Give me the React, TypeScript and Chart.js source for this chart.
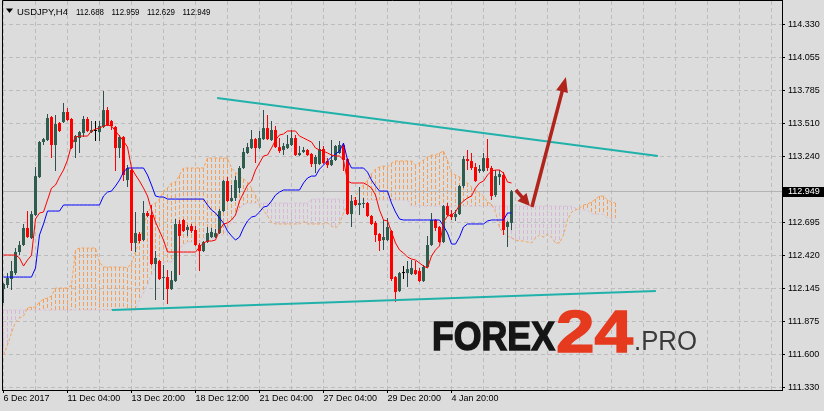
import React, { useEffect, useRef } from 'react';
import { Chart, registerables } from 'chart.js';
Chart.register(...registerables);

// ---------- data (USDJPY H4, bar index 0 = 6 Dec 2017) ----------
const opens = [
  112.141, 112.174, 112.224, 112.273, 112.447, 112.505, 112.646, 112.563, 112.753, 113.067,
  113.357, 113.373, 113.563, 113.332, 113.514, 113.522, 113.605, 113.547, 113.357, 113.390,
  113.431, 113.547, 113.439, 113.448, 113.439, 113.481, 113.621, 113.530, 113.481, 113.307,
  113.398, 113.042, 113.125, 112.522, 112.596, 112.546, 112.770, 112.753, 112.348, 112.373,
  112.232, 112.240, 112.141, 112.207, 112.679, 112.712, 112.629, 112.662, 112.629, 112.505,
  112.455, 112.530, 112.571, 112.571, 112.604, 112.786, 113.034, 112.869, 112.894, 112.976,
  113.142, 113.266, 113.307, 113.381, 113.307, 113.381, 113.472, 113.373, 113.456, 113.315,
  113.291, 113.307, 113.332, 113.390, 113.249, 113.274, 113.291, 113.258, 113.175, 113.175,
  113.299, 113.200, 113.166, 113.208, 113.266, 113.332, 113.216, 112.761, 112.877, 112.836,
  112.844, 112.852, 112.745, 112.687, 112.596, 112.546, 112.546, 112.621, 112.240, 112.124,
  112.273, 112.273, 112.265, 112.298, 112.290, 112.207, 112.323, 112.505, 112.712, 112.654,
  112.530, 112.827, 112.761, 112.736, 112.761, 112.993, 113.216, 113.200, 113.150, 113.117,
  113.117, 113.224, 113.142, 112.918, 113.067, 113.084, 112.654, 112.688,
];
const highs = [
  112.190, 112.273, 112.373, 112.480, 112.538, 112.679, 112.786, 112.786, 113.150, 113.365,
  113.390, 113.588, 113.572, 113.580, 113.522, 113.679, 113.638, 113.555, 113.415, 113.448,
  113.572, 113.563, 113.530, 113.530, 113.530, 113.779, 113.646, 113.539, 113.489, 113.415,
  113.406, 113.166, 113.150, 112.778, 112.613, 112.869, 112.786, 112.836, 112.455, 112.381,
  112.340, 112.298, 112.290, 112.720, 112.712, 112.720, 112.671, 112.679, 112.662, 112.522,
  112.538, 112.654, 112.646, 112.637, 112.803, 113.042, 113.067, 113.001, 113.075, 113.158,
  113.307, 113.348, 113.456, 113.390, 113.448, 113.621, 113.580, 113.530, 113.489, 113.390,
  113.348, 113.415, 113.456, 113.415, 113.324, 113.315, 113.299, 113.266, 113.249, 113.365,
  113.324, 113.224, 113.373, 113.332, 113.365, 113.348, 113.224, 112.918, 112.902, 112.985,
  112.894, 112.860, 112.753, 112.704, 112.604, 112.712, 112.728, 112.629, 112.249, 112.282,
  112.331, 112.373, 112.381, 112.373, 112.315, 112.340, 112.580, 112.770, 112.720, 112.662,
  112.836, 112.852, 112.794, 112.794, 113.001, 113.241, 113.291, 113.266, 113.183, 113.166,
  113.266, 113.381, 113.158, 113.125, 113.125, 113.108, 112.704, 112.959,
];
const lows = [
  112.025, 112.149, 112.133, 112.257, 112.422, 112.497, 112.563, 112.555, 112.745, 113.059,
  113.332, 113.365, 113.224, 113.117, 113.439, 113.514, 113.530, 113.299, 113.224, 113.266,
  113.398, 113.439, 113.431, 113.365, 113.365, 113.472, 113.489, 113.456, 113.117, 113.224,
  113.034, 112.985, 112.455, 112.447, 112.522, 112.538, 112.736, 112.340, 112.050, 112.215,
  112.050, 112.017, 112.133, 112.199, 112.257, 112.612, 112.580, 112.604, 112.497, 112.290,
  112.447, 112.522, 112.563, 112.563, 112.596, 112.778, 112.860, 112.860, 112.869, 112.935,
  113.133, 113.258, 113.299, 113.183, 113.299, 113.373, 113.373, 113.365, 113.307, 113.266,
  113.249, 113.299, 113.324, 113.241, 113.241, 113.266, 113.241, 113.150, 113.100, 113.166,
  113.175, 113.142, 113.158, 113.200, 113.258, 113.117, 112.753, 112.654, 112.827, 112.753,
  112.811, 112.736, 112.671, 112.530, 112.455, 112.464, 112.538, 112.207, 112.033, 112.116,
  112.224, 112.158, 112.257, 112.257, 112.199, 112.199, 112.315, 112.497, 112.621, 112.522,
  112.522, 112.745, 112.712, 112.704, 112.753, 112.976, 113.125, 113.125, 113.026, 113.100,
  113.108, 113.117, 112.877, 112.902, 113.001, 112.588, 112.489, 112.629,
];
const closes = [
  112.182, 112.232, 112.290, 112.447, 112.505, 112.646, 112.571, 112.761, 113.075, 113.357,
  113.381, 113.555, 113.332, 113.505, 113.448, 113.605, 113.539, 113.307, 113.406, 113.439,
  113.547, 113.448, 113.456, 113.448, 113.489, 113.621, 113.497, 113.489, 113.307, 113.398,
  113.084, 113.142, 112.522, 112.604, 112.538, 112.770, 112.745, 112.348, 112.398, 112.224,
  112.240, 112.141, 112.215, 112.679, 112.580, 112.621, 112.654, 112.621, 112.505, 112.455,
  112.530, 112.604, 112.613, 112.604, 112.786, 113.034, 112.869, 112.894, 113.042, 113.142,
  113.274, 113.315, 113.381, 113.307, 113.390, 113.472, 113.381, 113.456, 113.315, 113.282,
  113.324, 113.340, 113.390, 113.249, 113.266, 113.291, 113.249, 113.175, 113.233, 113.299,
  113.183, 113.166, 113.208, 113.324, 113.332, 113.208, 112.761, 112.869, 112.836, 112.852,
  112.852, 112.745, 112.679, 112.588, 112.538, 112.571, 112.654, 112.224, 112.116, 112.273,
  112.273, 112.306, 112.315, 112.265, 112.207, 112.323, 112.505, 112.712, 112.646, 112.530,
  112.827, 112.753, 112.736, 112.761, 112.993, 113.216, 113.200, 113.142, 113.034, 113.133,
  113.224, 113.142, 112.910, 113.075, 113.092, 112.629, 112.695, 112.949,
];
// Tenkan-sen (red)
const tenkan = [
  112.422, 112.422, 112.422, 112.422, 112.398, 112.331, 112.381, 112.420, 112.720, 112.770,
  112.778, 112.877, 112.976, 113.001, 113.067, 113.125, 113.208, 113.332, 113.398, 113.406,
  113.406, 113.406, 113.448, 113.464, 113.472, 113.489, 113.497, 113.489, 113.448, 113.406,
  113.365, 113.315, 113.142, 113.084, 113.034, 112.976, 112.910, 112.794, 112.695, 112.621,
  112.546, 112.447, 112.447, 112.447, 112.447, 112.447, 112.447, 112.447, 112.447, 112.489,
  112.522, 112.538, 112.538, 112.546, 112.629, 112.679, 112.687, 112.712, 112.753, 112.869,
  112.935, 113.001, 113.034, 113.125, 113.183, 113.241, 113.249, 113.307, 113.373, 113.415,
  113.423, 113.448, 113.448, 113.448, 113.406, 113.390, 113.373, 113.357, 113.307, 113.291,
  113.282, 113.266, 113.249, 113.241, 113.241, 113.208, 113.034, 113.018, 113.018, 113.018,
  113.018, 113.001, 112.976, 112.918, 112.794, 112.712, 112.704, 112.613, 112.522, 112.464,
  112.439, 112.406, 112.389, 112.381, 112.356, 112.331, 112.315, 112.414, 112.464, 112.497,
  112.695, 112.745, 112.753, 112.778, 112.836, 112.869, 112.894, 112.910, 112.976, 113.018,
  113.034, 113.084, 113.117, 113.125, 113.125, 113.100, 113.026, 113.018,
];
// Kijun-sen (blue)
const kijun = [
  112.240, 112.240, 112.240, 112.240, 112.240, 112.240, 112.240, 112.240, 112.315, 112.588,
  112.679, 112.786, 112.786, 112.786, 112.786, 112.836, 112.836, 112.836, 112.836, 112.836,
  112.836, 112.836, 112.836, 112.836, 112.836, 112.910, 112.943, 112.951, 112.993, 113.042,
  113.108, 113.142, 113.142, 113.142, 113.142, 113.142, 113.084, 113.001, 112.910, 112.902,
  112.902, 112.885, 112.885, 112.885, 112.885, 112.885, 112.885, 112.885, 112.885, 112.885,
  112.885, 112.836, 112.794, 112.770, 112.728, 112.687, 112.621, 112.580, 112.546, 112.571,
  112.646, 112.704, 112.736, 112.745, 112.778, 112.819, 112.827, 112.869, 112.918, 112.943,
  112.960, 112.960, 112.960, 112.960, 112.960, 113.018, 113.059, 113.075, 113.075, 113.133,
  113.166, 113.200, 113.233, 113.257, 113.282, 113.348, 113.208, 113.142, 113.142, 113.142,
  113.142, 113.108, 113.042, 112.993, 112.951, 112.951, 112.951, 112.852, 112.778, 112.720,
  112.712, 112.712, 112.712, 112.712, 112.712, 112.712, 112.712, 112.712, 112.712, 112.712,
  112.662, 112.604, 112.513, 112.513, 112.571, 112.654, 112.679, 112.679, 112.679, 112.679,
  112.679, 112.704, 112.712, 112.712, 112.712, 112.712, 112.770, 112.770,
];
// Senkou Span A (sandy brown) – shifted 26 bars forward
const spanA = [
  111.595, 111.678, 111.777, 111.868, 111.901, 111.918, 111.984, 111.992, 111.992, 112.033,
  112.058, 112.066, 112.083, 112.149, 112.149, 112.149, 112.149, 112.174, 112.464, 112.480,
  112.480, 112.480, 112.480, 112.480, 112.364, 112.323, 112.323, 112.323, 112.323, 112.323,
  112.323, 112.315, 112.356, 112.447, 112.546, 112.662, 112.761, 112.836, 112.852, 112.885,
  112.951, 112.976, 113.018, 113.026, 113.084, 113.142, 113.142, 113.142, 113.142, 113.142,
  113.142, 113.224, 113.224, 113.224, 113.224, 113.224, 113.224, 113.142, 113.108, 113.075,
  113.051, 113.026, 112.976, 112.918, 112.836, 112.794, 112.745, 112.695, 112.679, 112.679,
  112.679, 112.679, 112.679, 112.679, 112.679, 112.704, 112.679, 112.679, 112.679, 112.679,
  112.679, 112.687, 112.662, 112.646, 112.679, 112.770, 112.836, 112.877, 112.902, 112.968,
  113.001, 113.042, 113.092, 113.133, 113.150, 113.158, 113.150, 113.183, 113.200, 113.200,
  113.200, 113.200, 113.200, 113.166, 113.183, 113.208, 113.233, 113.249, 113.249, 113.266,
  113.282, 113.208, 113.100, 113.084, 113.067, 113.042, 113.018, 112.985, 112.960, 112.935,
  112.910, 112.860, 112.844, 112.778, 112.646, 112.604, 112.580, 112.563, 112.546, 112.538,
  112.538, 112.530, 112.522, 112.563, 112.588, 112.571, 112.596, 112.571, 112.522, 112.522,
  112.588, 112.712, 112.778, 112.794, 112.811, 112.836, 112.844, 112.860, 112.885, 112.910,
  112.910, 112.877, 112.860, 112.852,
];
// Senkou Span B (thistle) – shifted 26 bars forward
const spanB = [
  111.967, 111.967, 111.967, 111.967, 111.967, 111.967, 111.967, 111.967, 111.967, 111.967,
  111.967, 111.967, 111.967, 111.967, 111.967, 111.967, 111.967, 111.967, 111.967, 111.967,
  111.967, 111.967, 111.967, 111.967, 111.967, 111.967, 111.967, 111.967, 111.967, 111.967,
  111.967, 111.967, 111.967, 111.967, 112.050, 112.108, 112.174, 112.257, 112.323, 112.364,
  112.364, 112.364, 112.364, 112.422, 112.480, 112.505, 112.530, 112.530, 112.530, 112.530,
  112.563, 112.563, 112.563, 112.563, 112.588, 112.588, 112.646, 112.695, 112.753, 112.811,
  112.836, 112.852, 112.852, 112.852, 112.852, 112.852, 112.852, 112.852, 112.852, 112.852,
  112.852, 112.852, 112.852, 112.852, 112.852, 112.852, 112.852, 112.885, 112.885, 112.885,
  112.885, 112.885, 112.885, 112.885, 112.885, 112.877, 112.877, 112.877, 112.877, 112.877,
  112.877, 112.877, 112.877, 112.877, 112.877, 112.877, 112.877, 112.877, 112.877, 112.877,
  112.877, 112.877, 112.827, 112.827, 112.827, 112.827, 112.827, 112.827, 112.827, 112.827,
  112.827, 112.827, 112.827, 112.827, 112.827, 112.827, 112.827, 112.827, 112.827, 112.827,
  112.827, 112.827, 112.827, 112.827, 112.827, 112.827, 112.827, 112.827, 112.827, 112.827,
  112.827, 112.827, 112.827, 112.827, 112.827, 112.827, 112.827, 112.827, 112.827, 112.827,
  112.827, 112.827, 112.827, 112.811, 112.794, 112.794, 112.794, 112.761, 112.761, 112.761,
  112.761, 112.728, 112.728, 112.728,
];

const yTickValues = [111.33, 111.6, 111.875, 112.145, 112.42, 112.695, 113.24, 113.51, 113.785, 114.055, 114.33];
const xGridIndex = [0, 8, 16, 24, 32, 40, 48, 56, 64, 72, 80, 88, 96, 104, 112, 120, 128, 136, 144, 152, 160, 168, 176, 184, 192];
const xLabelIndex = [0, 16, 32, 48, 64, 80, 96, 112];
const xLabelText = ['6 Dec 2017', '11 Dec 04:00', '13 Dec 20:00', '18 Dec 12:00', '21 Dec 04:00', '27 Dec 04:00', '29 Dec 20:00', '4 Jan 20:00'];

const symbolText = 'USDJPY,H4';
const headerValues = ['112.688', '112.959', '112.629', '112.949'];
const lastPrice = 112.949;

// analysis drawings, in (bar index, price)
const upperTrend = [[53.4, 113.721], [163.6, 113.241]];
const lowerTrend = [[27.1, 111.967], [163.1, 112.124]];
const arrowSmall = [[128.1, 112.960], [131.6, 112.827]];
const arrowBig = [[132.1, 112.819], [140.6, 113.894]];

// ---------- styling ----------
const BG = '#dcdcdc';
const GRID = '#bcbcbc';
const BULL = '#2f5d4d';
const BULL_WICK = '#2f4f4f';
const BEAR = '#ff0000';
const DOJI = '#000000';
const SPAN_A_COLOR = '#f4a460';
const SPAN_B_COLOR = '#d8bfd8';
const HATCH_A = '#f2a05a';
const HATCH_B = '#d6b9d6';
const TREND = '#20b2aa';
const ARROW = '#b0241c';
const FONT = 'Liberation Sans, Arial, sans-serif';

const X_MIN = -0.375;
const X_MAX = 194.625;
const Y_MIN = 111.306;
const Y_MAX = 114.523;

function fitText(ctx: CanvasRenderingContext2D, text: string, x: number, baseline: number, width: number, font: string, color: string, stroke = 0) {
  ctx.save();
  ctx.font = font;
  const w = ctx.measureText(text).width;
  ctx.translate(x, baseline);
  ctx.scale(width / w, 1);
  ctx.fillStyle = color;
  ctx.textAlign = 'left';
  ctx.textBaseline = 'alphabetic';
  ctx.fillText(text, 0, 0);
  if (stroke) {
    ctx.lineWidth = stroke;
    ctx.strokeStyle = color;
    ctx.strokeText(text, 0, 0);
  }
  ctx.restore();
}

function drawArrow(ctx: CanvasRenderingContext2D, x1: number, y1: number, x2: number, y2: number, headLen: number, headW: number, lw: number) {
  const ang = Math.atan2(y2 - y1, x2 - x1);
  const bx = x2 - headLen * Math.cos(ang);
  const by = y2 - headLen * Math.sin(ang);
  ctx.strokeStyle = ARROW;
  ctx.fillStyle = ARROW;
  ctx.lineWidth = lw;
  ctx.lineCap = 'butt';
  ctx.setLineDash([]);
  ctx.beginPath();
  ctx.moveTo(x1, y1);
  ctx.lineTo(bx + Math.cos(ang), by + Math.sin(ang));
  ctx.stroke();
  ctx.beginPath();
  ctx.moveTo(x2, y2);
  ctx.lineTo(bx + (headW / 2) * Math.sin(ang), by - (headW / 2) * Math.cos(ang));
  ctx.lineTo(bx - (headW / 2) * Math.sin(ang), by + (headW / 2) * Math.cos(ang));
  ctx.closePath();
  ctx.fill();
}

const decor = {
  id: 'decor',
  beforeDraw(chart: any) {
    const { ctx, width, height } = chart;
    ctx.save();
    ctx.fillStyle = BG;
    ctx.fillRect(0, 0, width, height);
    ctx.restore();
  },
  beforeDatasetsDraw(chart: any) {
    const { ctx, chartArea, scales } = chart;
    const xs = scales.x;
    const ys = scales.y;
    ctx.save();
    ctx.beginPath();
    ctx.rect(chartArea.left, chartArea.top, chartArea.right - chartArea.left, chartArea.bottom - chartArea.top);
    ctx.clip();
    // Kumo cloud hatching between Span A and Span B
    ctx.lineWidth = 1;
    ctx.setLineDash([4, 2]);
    for (let i = 0; i < spanA.length; i++) {
      const x = Math.round(xs.getPixelForValue(i) - 0.5) + 0.5;
      const ya = ys.getPixelForValue(spanA[i]);
      const yb = ys.getPixelForValue(spanB[i]);
      const top = Math.min(ya, yb);
      const bot = Math.max(ya, yb);
      if (bot - top < 1) continue;
      ctx.strokeStyle = spanA[i] >= spanB[i] ? HATCH_A : HATCH_B;
      ctx.beginPath();
      ctx.moveTo(x, Math.round(top));
      ctx.lineTo(x, Math.round(bot));
      ctx.stroke();
    }
    ctx.setLineDash([]);
    // current price line
    const y = Math.round(ys.getPixelForValue(lastPrice)) + 0.5;
    ctx.strokeStyle = '#b4b4b4';
    ctx.beginPath();
    ctx.moveTo(chartArea.left, y);
    ctx.lineTo(chartArea.right, y);
    ctx.stroke();
    ctx.restore();
  },
  afterDatasetsDraw(chart: any) {
    const { ctx, chartArea, scales } = chart;
    const px = (p: number[]) => [scales.x.getPixelForValue(p[0]), scales.y.getPixelForValue(p[1])];
    ctx.save();
    ctx.beginPath();
    ctx.rect(chartArea.left, chartArea.top, chartArea.right - chartArea.left, chartArea.bottom - chartArea.top);
    ctx.clip();
    ctx.setLineDash([]);
    ctx.strokeStyle = TREND;
    ctx.lineWidth = 2;
    for (const t of [upperTrend, lowerTrend]) {
      const a = px(t[0]);
      const b = px(t[1]);
      ctx.beginPath();
      ctx.moveTo(a[0], a[1]);
      ctx.lineTo(b[0], b[1]);
      ctx.stroke();
    }
    const s0 = px(arrowSmall[0]);
    const s1 = px(arrowSmall[1]);
    drawArrow(ctx, s0[0], s0[1], s1[0], s1[1], 12, 12, 3.5);
    const b0 = px(arrowBig[0]);
    const b1 = px(arrowBig[1]);
    drawArrow(ctx, b0[0], b0[1], b1[0], b1[1], 15, 12, 3.5);
    ctx.restore();
  },
  afterDraw(chart: any) {
    const { ctx, chartArea, scales } = chart;
    ctx.save();
    ctx.setLineDash([]);
    // frame top / left
    ctx.strokeStyle = '#000';
    ctx.lineWidth = 1;
    ctx.beginPath();
    ctx.moveTo(chartArea.left + 0.5, chartArea.bottom);
    ctx.lineTo(chartArea.left + 0.5, 0.5);
    ctx.lineTo(chartArea.right + 1, 0.5);
    ctx.stroke();
    // price label
    const py = scales.y.getPixelForValue(lastPrice);
    ctx.fillStyle = '#000';
    ctx.fillRect(chartArea.right + 1, Math.round(py) - 4, 42, 10);
    ctx.fillStyle = '#fff';
    ctx.font = `9px ${FONT}`;
    ctx.textBaseline = 'middle';
    ctx.textAlign = 'left';
    ctx.fillText(lastPrice.toFixed(3), chartArea.right + 6, Math.round(py) + 1);
    // header
    ctx.fillStyle = '#000';
    ctx.beginPath();
    ctx.moveTo(6, 8.5);
    ctx.lineTo(13, 8.5);
    ctx.lineTo(9.5, 13);
    ctx.closePath();
    ctx.fill();
    fitText(ctx, symbolText, 17, 15, 51, `9px ${FONT}`, '#000');
    const hx = [76, 111.5, 147, 182.5];
    headerValues.forEach((t, i) => fitText(ctx, t, hx[i], 15, 28, `9px ${FONT}`, '#000'));
    // watermark
    fitText(ctx, 'FOREX', 432, 350, 123, `bold 40px ${FONT}`, '#151515', 1.4);
    fitText(ctx, '24', 556, 352, 77, `bold 60px ${FONT}`, '#e63a1f', 1.4);
    fitText(ctx, '.PRO', 634, 350, 63, `27px ${FONT}`, '#3a3a3a');
    ctx.restore();
  },
};

export default function App() {
  const ref = useRef<HTMLCanvasElement>(null);
  useEffect(() => {
    document.body.style.margin = '0';
    const canvas = ref.current!;

    const candleColor = opens.map((o, i) => (closes[i] > o ? BULL : closes[i] < o ? BEAR : DOJI));
    const wickColor = opens.map((o, i) => (closes[i] > o ? BULL_WICK : closes[i] < o ? BEAR : DOJI));
    const bodyData = opens.map((o, i) => ({ x: i, y: [o, closes[i]] }));
    const wickData = opens.map((o, i) => ({ x: i, y: [lows[i], highs[i]] }));
    const line = (arr: number[]) => arr.map((v, i) => ({ x: i, y: v }));
    const labelMap = new Map(xLabelIndex.map((v, i) => [v, xLabelText[i]]));

    const chart = new Chart(canvas, {
      type: 'bar',
      data: {
        datasets: [
          {
            type: 'line', data: line(spanB) as any, borderColor: SPAN_B_COLOR, borderWidth: 1, borderDash: [3, 2],
            pointRadius: 0, tension: 0, fill: false, order: 9,
          },
          {
            type: 'line', data: line(spanA) as any, borderColor: SPAN_A_COLOR, borderWidth: 1, borderDash: [3, 2],
            pointRadius: 0, tension: 0, fill: false, order: 8,
          },
          {
            type: 'bar', data: wickData as any, backgroundColor: wickColor, borderWidth: 0, inflateAmount: 0,
            grouped: false, categoryPercentage: 1, barPercentage: 0.25, order: 6,
          },
          {
            type: 'bar', data: bodyData as any, backgroundColor: candleColor, borderWidth: 0, minBarLength: 1, inflateAmount: 0,
            grouped: false, categoryPercentage: 1, barPercentage: 0.75, order: 5,
          },
          {
            type: 'line', data: line(kijun) as any, borderColor: '#0000ff', borderWidth: 1,
            pointRadius: 0, tension: 0, fill: false, order: 3,
          },
          {
            type: 'line', data: line(tenkan) as any, borderColor: '#ff0000', borderWidth: 1,
            pointRadius: 0, tension: 0, fill: false, order: 2,
          },
        ],
      },
      options: {
        responsive: false,
        devicePixelRatio: 1,
        animation: false,
        events: [],
        layout: { padding: { left: 2, top: 1, right: 0, bottom: 0 } },
        plugins: { legend: { display: false }, tooltip: { enabled: false } },
        scales: {
          x: {
            type: 'linear', min: X_MIN, max: X_MAX, offset: false, bounds: 'data',
            afterBuildTicks: (s: any) => { s.ticks = xGridIndex.map((v) => ({ value: v })); },
            afterFit: (s: any) => { s.height = 21; s.paddingLeft = 0; s.paddingRight = 0; },
            ticks: {
              autoSkip: false, maxRotation: 0, minRotation: 0, align: 'start', padding: 0,
              color: '#000', font: { family: FONT, size: 9 },
              callback: (v: any) => labelMap.get(Number(v)) || '',
            },
            grid: {
              color: GRID, lineWidth: 1, drawTicks: true, tickLength: 3, offset: false,
              tickColor: (c: any) => (c.tick && labelMap.has(c.tick.value) ? '#000' : 'rgba(0,0,0,0)'),
            },
            border: { display: true, color: '#000', width: 1, dash: [4, 3] },
          },
          y: {
            type: 'linear', position: 'right', min: Y_MIN, max: Y_MAX, bounds: 'data', stacked: false,
            afterBuildTicks: (s: any) => { s.ticks = yTickValues.map((v) => ({ value: v })); },
            afterFit: (s: any) => { s.width = 42; s.paddingTop = 0; s.paddingBottom = 0; },
            ticks: {
              padding: 3, color: '#000', font: { family: FONT, size: 9 },
              callback: (v: any) => Number(v).toFixed(3),
            },
            grid: { color: GRID, lineWidth: 1, drawTicks: true, tickLength: 3, tickColor: '#000' },
            border: { display: true, color: '#000', width: 1, dash: [4, 3] },
          },
        },
      } as any,
      plugins: [decor],
    });
    return () => chart.destroy();
  }, []);
  return (
    <div style={{ position: 'fixed', left: 0, top: 0, width: 824, height: 411, background: BG }}>
      <canvas ref={ref} width={824} height={411} style={{ display: 'block', width: 824, height: 411 }} />
    </div>
  );
}
